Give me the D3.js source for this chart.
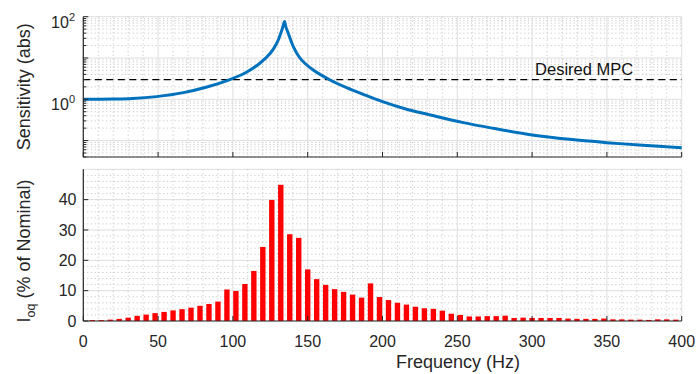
<!DOCTYPE html>
<html>
<head>
<meta charset="utf-8">
<script src="https://cdn.jsdelivr.net/npm/d3@7"></script>
<style>
  body { margin: 0; background: #fff; }
  svg { display: block; font-family: "Liberation Sans", Arial, Helvetica, sans-serif; }
</style>
</head>
<body>
<svg id="chart" width="697" height="374"></svg>
<script>
// top panel: sensitivity magnitude
const sensFreq  = [0, 20, 33, 49, 67, 82, 98, 109, 118, 125, 129.3, 132, 133.5, 134.5, 135.5, 137, 140.4, 145, 153.7, 165, 176, 187, 200, 215, 232, 254, 274, 300, 325, 350, 374, 400];
const sensValue = [1.0, 1.01, 1.04, 1.16, 1.45, 1.95, 3.0, 4.5, 7.45, 13, 22.7, 39.6, 58, 76, 55, 39.6, 18.8, 9.8, 5.1, 2.93, 1.91, 1.32, 0.875, 0.59, 0.417, 0.272, 0.198, 0.137, 0.107, 0.089, 0.077, 0.067];
const mpcLevel = 3;
const mpcLabel = 'Desired MPC';

// bottom panel: current harmonics (% of nominal)
const harmFreq = [6, 12, 18, 24, 30, 36, 42, 48, 54, 60, 66, 72, 78, 84, 90, 96, 102, 108, 114, 120,
  126, 132, 138, 144, 150, 156, 162, 168, 174, 180, 186, 192, 198, 204, 210, 216, 222, 228, 234, 240,
  246, 252, 258, 264, 270, 276, 282, 288, 294, 300, 306, 312, 318, 324, 330, 336, 342, 348, 354, 360,
  366, 372, 378, 384, 390, 396];
const harmValue = [0.3, 0.3, 0.45, 0.7, 1.1, 1.7, 2.1, 2.6, 3.0, 3.5, 3.9, 4.4, 5.0, 5.6, 6.4, 10.4, 9.9, 12.2, 16.5, 24.4,
  39.9, 44.9, 28.6, 27.4, 17.0, 13.8, 11.9, 10.5, 9.6, 8.7, 7.7, 12.4, 7.9, 6.9, 6.0, 5.4, 4.7, 4.2, 4.0, 3.4,
  2.4, 2.0, 1.5, 1.5, 1.6, 1.6, 1.75, 1.0, 1.1, 1.0, 1.0, 1.0, 1.0, 0.8, 0.7, 0.7, 0.7, 0.8, 0.55, 0.55,
  0.45, 0.45, 0.35, 0.55, 0.55, 0.45];

const freqTicks = [0, 50, 100, 150, 200, 250, 300, 350, 400];
const sensTickLabels = [1, 100];
const iqTicks = [0, 10, 20, 30, 40];

const svg = d3.select('#chart');
const gridMajor = '#dedede', gridMinor = '#bdbdbd', axisCol = '#262626';

const x = d3.scaleLinear().domain([0, 400]).range([83.3, 681.7]);
const yS = d3.scaleLog().domain([0.04, 100]).range([157, 16.7]);
const yI = d3.scaleLinear().domain([0, 50]).range([321, 169.3]);

const minorFreq = x.ticks(40).filter(f => !freqTicks.includes(f));

// ---------- grids ----------
function vGrid(g, y0, y1) {
  g.append('g').selectAll('line').data(minorFreq).join('line')
    .attr('x1', d => x(d)).attr('x2', d => x(d)).attr('y1', y0).attr('y2', y1)
    .attr('stroke', gridMinor).attr('stroke-width', 0.8).attr('stroke-dasharray', '1.2,2.6');
  g.append('g').selectAll('line').data(freqTicks).join('line')
    .attr('x1', d => x(d)).attr('x2', d => x(d)).attr('y1', y0).attr('y2', y1)
    .attr('stroke', gridMajor).attr('stroke-width', 1);
}
function hGrid(g, minor, major, y) {
  g.append('g').selectAll('line').data(minor).join('line')
    .attr('x1', x(0)).attr('x2', x(400)).attr('y1', d => y(d)).attr('y2', d => y(d))
    .attr('stroke', gridMinor).attr('stroke-width', 0.8).attr('stroke-dasharray', '1.2,2.6');
  g.append('g').selectAll('line').data(major).join('line')
    .attr('x1', x(0)).attr('x2', x(400)).attr('y1', d => y(d)).attr('y2', d => y(d))
    .attr('stroke', gridMajor).attr('stroke-width', 1);
}

// ---------- top panel ----------
const topG = svg.append('g');
const logTicks = yS.ticks();
const decades = logTicks.filter(v => Math.abs(Math.log10(v) - Math.round(Math.log10(v))) < 1e-9);
const logMinor = logTicks.filter(v => !decades.includes(v));
hGrid(topG.append('g'), logMinor, decades, yS);
vGrid(topG.append('g'), yS.range()[1], yS.range()[0]);

topG.append('line')
  .attr('x1', x(0)).attr('x2', x(400)).attr('y1', yS(mpcLevel)).attr('y2', yS(mpcLevel))
  .attr('stroke', '#000').attr('stroke-width', 1.2).attr('stroke-dasharray', '7,4.5');

const sensData = sensFreq.map((f, i) => ({ f, v: sensValue[i] }));
topG.append('path').datum(sensData)
  .attr('fill', 'none').attr('stroke', '#0072BD').attr('stroke-width', 3)
  .attr('stroke-linejoin', 'round')
  .attr('d', d3.line().x(d => x(d.f)).y(d => yS(d.v)).curve(d3.curveCatmullRom.alpha(0.5)));

topG.append('text')
  .attr('x', x(302)).attr('y', yS(mpcLevel) - 4.5)
  .attr('font-size', 16.5).attr('fill', '#111').text(mpcLabel);

// axes
topG.append('line').attr('x1', x(0)).attr('x2', x(0)).attr('y1', yS.range()[1]).attr('y2', yS.range()[0])
  .attr('stroke', axisCol).attr('stroke-width', 1.2);
topG.append('line').attr('x1', x(0)).attr('x2', x(400)).attr('y1', yS.range()[0]).attr('y2', yS.range()[0])
  .attr('stroke', axisCol).attr('stroke-width', 1.2);
topG.append('g').selectAll('line').data(logTicks).join('line')
  .attr('x1', x(0)).attr('x2', d => x(0) + (decades.includes(d) ? 5 : 3))
  .attr('y1', d => yS(d)).attr('y2', d => yS(d))
  .attr('stroke', axisCol).attr('stroke-width', 1);
topG.append('g').selectAll('line').data(freqTicks).join('line')
  .attr('x1', d => x(d)).attr('x2', d => x(d))
  .attr('y1', yS.range()[0]).attr('y2', yS.range()[0] - 5)
  .attr('stroke', axisCol).attr('stroke-width', 1);

const sensLab = topG.append('g').selectAll('text').data(sensTickLabels).join('text')
  .attr('x', 75).attr('y', d => yS(d) + 11)
  .attr('text-anchor', 'end').attr('font-size', 16).attr('fill', '#262626');
sensLab.append('tspan').text('10');
sensLab.append('tspan').attr('dy', -7).attr('font-size', 11).text(d => Math.round(Math.log10(d)));

topG.append('text')
  .attr('transform', `translate(29.7,${(yS.range()[0] + yS.range()[1]) / 2}) rotate(-90)`)
  .attr('text-anchor', 'middle').attr('font-size', 18).attr('fill', '#262626')
  .text('Sensitivity (abs)');

// ---------- bottom panel ----------
const botG = svg.append('g');
const iqMajor = yI.ticks(5);
const iqMinor = yI.ticks(25).filter(v => !iqMajor.includes(v));
hGrid(botG.append('g'), iqMinor, iqMajor, yI);
vGrid(botG.append('g'), yI.range()[1], yI.range()[0]);

const barW = x(3.6) - x(0);
botG.append('g').selectAll('rect').data(harmFreq).join('rect')
  .attr('x', d => x(d) - barW / 2).attr('width', barW)
  .attr('y', (d, i) => yI(harmValue[i])).attr('height', (d, i) => yI(0) - yI(harmValue[i]))
  .attr('fill', '#ff0000');

botG.append('line').attr('x1', x(0)).attr('x2', x(0)).attr('y1', yI.range()[1]).attr('y2', yI.range()[0])
  .attr('stroke', axisCol).attr('stroke-width', 1.2);
botG.append('line').attr('x1', x(0)).attr('x2', x(400)).attr('y1', yI(0)).attr('y2', yI(0))
  .attr('stroke', axisCol).attr('stroke-width', 1.2);
botG.append('g').selectAll('line').data(iqTicks).join('line')
  .attr('x1', x(0)).attr('x2', x(0) + 5).attr('y1', d => yI(d)).attr('y2', d => yI(d))
  .attr('stroke', axisCol).attr('stroke-width', 1);
botG.append('g').selectAll('line').data(freqTicks).join('line')
  .attr('x1', d => x(d)).attr('x2', d => x(d)).attr('y1', yI(0)).attr('y2', yI(0) - 5)
  .attr('stroke', axisCol).attr('stroke-width', 1);

botG.append('g').selectAll('text').data(iqTicks).join('text')
  .attr('x', 76.5).attr('y', d => yI(d) + 5.7)
  .attr('text-anchor', 'end').attr('font-size', 16).attr('fill', '#262626')
  .text(d => d);
botG.append('g').selectAll('text').data(freqTicks).join('text')
  .attr('x', d => x(d)).attr('y', 347)
  .attr('text-anchor', 'middle').attr('font-size', 16).attr('fill', '#262626')
  .text(d => d);

const iqLabel = botG.append('text')
  .attr('transform', 'translate(29.5,251) rotate(-90)')
  .attr('text-anchor', 'middle').attr('font-size', 18).attr('fill', '#262626');
iqLabel.append('tspan').text('I');
iqLabel.append('tspan').attr('dy', 5).attr('font-size', 12.5).text('oq');
iqLabel.append('tspan').attr('dy', -5).text(' (% of Nominal)');

svg.append('text')
  .attr('x', 458).attr('y', 368)
  .attr('text-anchor', 'middle').attr('font-size', 18).attr('fill', '#262626')
  .text('Frequency (Hz)');
</script>
</body>
</html>
